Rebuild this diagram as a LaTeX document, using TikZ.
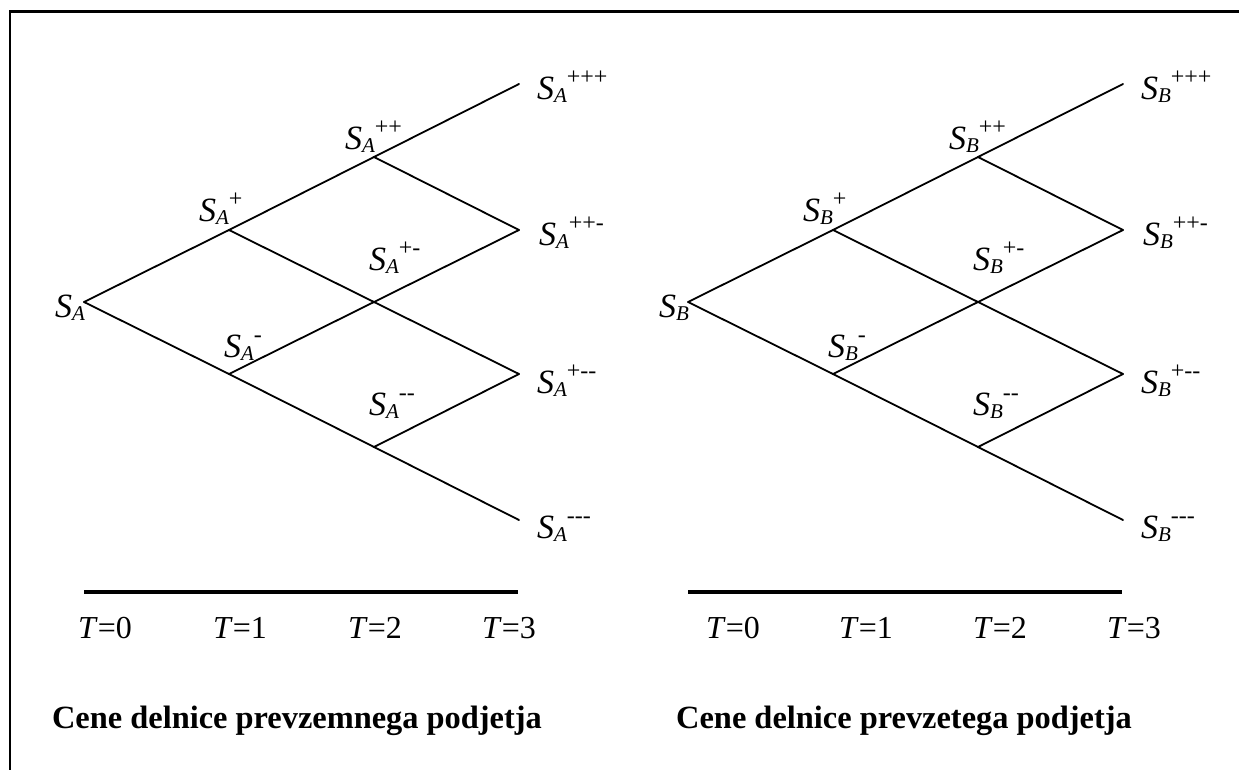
\documentclass[tikz,border=0pt]{standalone}
\usepackage{fontspec}
\setmainfont{Liberation Serif}
\newcommand{\SX}[2]{\textit{S}\raisebox{-3pt}{\fontsize{21}{21}\selectfont\textit{#1}}\raisebox{15pt}{\fontsize{24}{24}\selectfont #2}}
\newcommand{\bintree}[3]{%
\begin{scope}[xshift=#1pt]
\node[vtx] (#2r) at (84,302) {};
\node[vtx] (#2p) at (229,230) {};
\node[vtx] (#2m) at (229,374) {};
\node[vtx] (#2pp) at (374,157) {};
\node[vtx] (#2pm) at (374,302) {};
\node[vtx] (#2mm) at (374,447) {};
\node[vtx] (#2ppp) at (519,84) {};
\node[vtx] (#2ppm) at (519,230) {};
\node[vtx] (#2pmm) at (519,374) {};
\node[vtx] (#2mmm) at (519,520) {};
\draw[treeline] (#2r) -- (#2p);
\draw[treeline] (#2r) -- (#2m);
\draw[treeline] (#2p) -- (#2pp);
\draw[treeline] (#2p) -- (#2pm);
\draw[treeline] (#2m) -- (#2pm);
\draw[treeline] (#2m) -- (#2mm);
\draw[treeline] (#2pp) -- (#2ppp);
\draw[treeline] (#2pp) -- (#2ppm);
\draw[treeline] (#2pm) -- (#2ppm);
\draw[treeline] (#2pm) -- (#2pmm);
\draw[treeline] (#2mm) -- (#2pmm);
\draw[treeline] (#2mm) -- (#2mmm);
\node[lbl, anchor=base east] (#2Lr) at (85,317) {\SX{#3}{}};
\node[lbl, anchor=base west] (#2Lp) at (199,222) {\SX{#3}{+}};
\node[lbl, anchor=base west] (#2Lpp) at (345,150) {\SX{#3}{++}};
\node[lbl, anchor=base west] (#2Lppp) at (537,100) {\SX{#3}{+++}};
\node[lbl, anchor=base west] (#2Lpm) at (369,270) {\SX{#3}{+-}};
\node[lbl, anchor=base west] (#2Lppm) at (539,245) {\SX{#3}{++-}};
\node[lbl, anchor=base west] (#2Lm) at (224,357) {\SX{#3}{-}};
\node[lbl, anchor=base west] (#2Lmm) at (369,415) {\SX{#3}{-{}-}};
\node[lbl, anchor=base west] (#2Lpmm) at (537,393) {\SX{#3}{+-{}-}};
\node[lbl, anchor=base west] (#2Lmmm) at (537,538) {\SX{#3}{-{}-{}-}};
\coordinate (#2b0) at (84,592);
\coordinate (#2b1) at (518,592);
\draw[timebar] (#2b0) -- (#2b1);
\end{scope}}
\begin{document}
\begin{tikzpicture}[x=1pt,y=-1pt,
  vtx/.style={shape=coordinate},
  treeline/.style={line width=1.8pt, line cap=round},
  lbl/.style={inner sep=0pt, outer sep=0pt, font=\fontsize{34}{40}\selectfont},
  tlbl/.style={inner sep=0pt, outer sep=0pt, anchor=base, font=\fontsize{32}{38}\selectfont},
  captext/.style={inner sep=0pt, outer sep=0pt, anchor=base, font=\fontsize{32.4}{38}\selectfont\bfseries},
  timebar/.style={line width=3.5pt},
  framel/.style={line width=2.2pt}]
\useasboundingbox (0,0) rectangle (1239,770);
\coordinate (f0) at (10,775);
\coordinate (f1) at (10,11.5);
\coordinate (f2) at (1245,11.5);
\draw[framel] (f0) -- (f1) -- (f2);
\bintree{0}{a}{A}
\bintree{604}{b}{B}
\node[tlbl] (ta0) at (105,638) {\textit{T}=0};
\node[tlbl] (ta1) at (240,638) {\textit{T}=1};
\node[tlbl] (ta2) at (375,638) {\textit{T}=2};
\node[tlbl] (ta3) at (509,638) {\textit{T}=3};
\node[tlbl] (tb0) at (733,638) {\textit{T}=0};
\node[tlbl] (tb1) at (866,638) {\textit{T}=1};
\node[tlbl] (tb2) at (1000,638) {\textit{T}=2};
\node[tlbl] (tb3) at (1134,638) {\textit{T}=3};
\node[captext] (capa) at (297,728) {Cene delnice prevzemnega podjetja};
\node[captext] (capb) at (904,728) {Cene delnice prevzetega podjetja};
\end{tikzpicture}
\end{document}
